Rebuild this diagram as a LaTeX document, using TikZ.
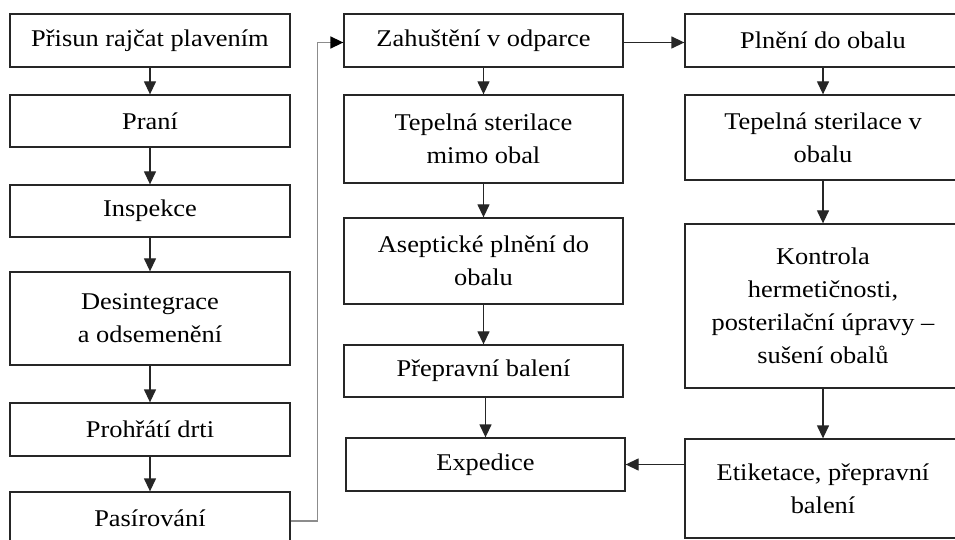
\documentclass[tikz,border=0pt]{standalone}
\usepackage{fontspec}
\setmainfont{Liberation Serif}[FakeStretch=1.1]
\usetikzlibrary{arrows.meta}
\begin{document}
\begin{tikzpicture}[x=1bp,y=-1bp,
  box/.style={draw=black!85, line width=1.3bp, inner sep=0pt, align=center,
    font=\fontsize{24bp}{33bp}\selectfont, text=black},
  arr/.style={line width=1.3bp, draw=black!85, -{Triangle[length=13bp,width=12bp]}},
  garr/.style={line width=1.6bp, draw=black!45, -{Triangle[length=13bp,width=12bp,color=black]}}]
\useasboundingbox (0,0) rectangle (955,540);
\clip (0,0) rectangle (955,540);
\fill[white] (0,0) rectangle (955,540);

% column 1
\node[box, minimum width=280bp, minimum height=53bp] (a1) at (150,40.5) {Přisun rajčat plavením};
\node[box, minimum width=280bp, minimum height=52bp] (a2) at (150,121) {Praní};
\node[box, minimum width=280bp, minimum height=52bp] (a3) at (150,211) {Inspekce};
\node[box, minimum width=280bp, minimum height=93bp] (a4) at (150,318.5) {Desintegrace\\a odsemenění};
\node[box, minimum width=280bp, minimum height=53bp] (a5) at (150,429.5) {Prohřátí drti};
\node[box, minimum width=280bp, minimum height=52bp] (a6) at (150,518) {Pasírování};

% column 2
\node[box, minimum width=279bp, minimum height=53bp] (b1) at (483.5,40.5) {Zahuštění v odparce};
\node[box, minimum width=279bp, minimum height=88bp] (b2) at (483.5,139) {Tepelná sterilace\\mimo obal};
\node[box, minimum width=279bp, minimum height=86bp] (b3) at (483.5,261) {Aseptické plnění do\\obalu};
\node[box, minimum width=279bp, minimum height=52bp] (b4) at (483.5,371) {Přepravní balení};
\node[box, minimum width=279bp, minimum height=53bp] (b5) at (485.5,464.5) {Expedice};

% column 3
\node[box, minimum width=276bp, minimum height=53bp] (c1) at (823,40.5) {Plnění do obalu};
\node[box, minimum width=276bp, minimum height=85bp] (c2) at (823,137.5) {Tepelná sterilace v\\obalu};
\node[box, minimum width=276bp, minimum height=164bp] (c3) at (823,306) {Kontrola\\hermetičnosti,\\posterilační úpravy –\\sušení obalů};
\node[box, minimum width=276bp, minimum height=99bp] (c4) at (823,488.5) {Etiketace, přepravní\\balení};

% arrows
\draw[arr] (a1) -- (a2);
\draw[arr] (a2) -- (a3);
\draw[arr] (a3) -- (a4);
\draw[arr] (a4) -- (a5);
\draw[arr] (a5) -- (a6);
\draw[garr] ([yshift=-3bp]a6.east) -- ++(27,0) |- ([yshift=-2bp]b1.west);
\draw[arr] (b1) -- (b2);
\draw[arr] (b2) -- (b3);
\draw[arr] (b3) -- (b4);
\draw[arr] (b4.south -| b5.north) -- (b5.north);
\draw[arr] ([yshift=-2bp]b1.east) -- ([yshift=-2bp]c1.west);
\draw[arr] (c1) -- (c2);
\draw[arr] (c2) -- (c3);
\draw[arr] (c3) -- (c4);
\draw[arr] (c4.west |- b5.east) -- (b5.east);
\end{tikzpicture}
\end{document}
